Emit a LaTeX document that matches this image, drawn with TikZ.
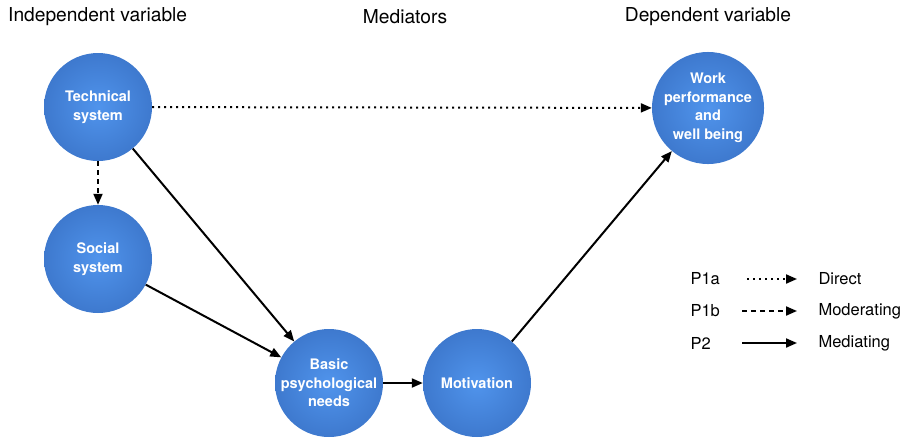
\documentclass[tikz,border=0pt]{standalone}
\usepackage{fontspec}
\setmainfont{TeX Gyre Heros}
\usepackage{tikz}
\usetikzlibrary{arrows.meta,positioning}
\definecolor{ballin}{RGB}{80,148,236}
\definecolor{ballout}{RGB}{44,94,176}
\pgfdeclareradialshading{ball}{\pgfpoint{0bp}{0bp}}{color(0bp)=(ballin); color(50bp)=(ballout)}

\begin{document}
\begin{tikzpicture}[
    x=1pt,y=-1pt,
    var/.style={circle,shading=ball,minimum size=108pt,inner sep=0pt,align=center,
      text=white,font=\fontsize{14.5}{18.5}\selectfont\bfseries},
    head/.style={font=\fontsize{19.2}{23}\selectfont},
    legend/.style={font=\fontsize{16.5}{20}\selectfont,anchor=west},
    link/.style={line width=2pt,-{Triangle[length=11pt,width=9pt]}},
    direct/.style={link,dash pattern=on 2pt off 4pt},
    moderate/.style={link,dash pattern=on 5pt off 4pt}
  ]
  \useasboundingbox (0,0) rectangle (904,437);
  % column heads
  \node[head,anchor=west,inner sep=0pt] (indep) at (8,17) {Independent variable};
  \node[head] (medi) at (405,17) {Mediators};
  \node[head] (dep) at (708,17) {Dependent variable};
  % variables
  \node[var] (tech) at (98,107) {Technical\\system};
  \node[var] (social) at (98,259) {Social\\system};
  \node[var] (basic) at (329,383) {Basic\\psychological\\needs};
  \node[var] (motiv) at (477,383) {Motivation};
  \node[var] (work) at (708,108) {Work\\performance\\and\\well being};
  % paths
  \draw[direct] (tech) -- (work);
  \draw[moderate] (tech) -- (social);
  \draw[link] (tech) -- (basic);
  \draw[link] (social) -- (basic);
  \draw[link] (basic) -- (motiv);
  \draw[link] (motiv) -- (work);
  % legend
  \foreach \key/\kind/\style/\y/\x in {P1a/Direct/direct/279/747,
      P1b/Moderating/moderate/311/742,P2/Mediating/link/343/742}{
    \node[legend] (\key) at (687,\y) {\key};
    \coordinate (\key-a) at (\x,\y);
    \coordinate (\key-b) at (797,\y);
    \draw[\style] (\key-a) -- (\key-b);
    \node[legend] (\key-t) at (815,\y) {\kind};
  }
\end{tikzpicture}
\end{document}
